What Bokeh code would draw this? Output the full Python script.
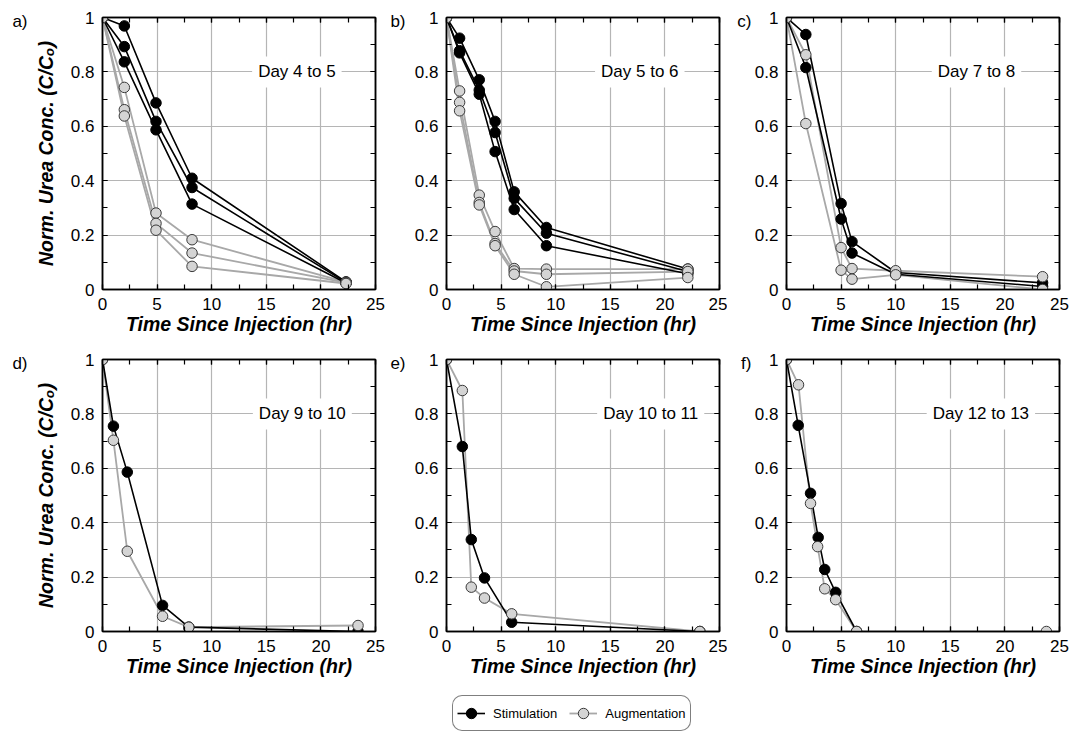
from bokeh.plotting import figure
from bokeh.models import (FixedTicker, LinearAxis, Label, Legend, LegendItem,
                          CustomJSTickFormatter)
from bokeh.layouts import column, row
from bokeh.embed import file_html
from bokeh.resources import INLINE

FONT = "Liberation Sans"

# ---------------- data ----------------
X_TICKS = [0, 5, 10, 15, 20, 25]
X_MINOR = [0, 2.5, 5, 7.5, 10, 12.5, 15, 17.5, 20, 22.5, 25]
Y_TICKS = [0, 0.2, 0.4, 0.6, 0.8, 1.0]
Y_MINOR = [0.1, 0.2, 0.3, 0.4, 0.5, 0.6, 0.7, 0.8, 0.9]
X_GRID = [5, 10, 15, 20]
Y_GRID = [0.2, 0.4, 0.6, 0.8]
X_LABEL = "Time Since Injection (hr)"
Y_LABEL = "Norm. Urea Conc. (C/Cₒ)"

# Panel a) Day 4 to 5
a_t = [0, 2.0, 4.9, 8.2, 22.3]
a_stim = [[1, 0.969, 0.686, 0.409, 0.028],
          [1, 0.893, 0.618, 0.375, 0.026],
          [1, 0.837, 0.587, 0.314, 0.024]]
a_aug = [[1, 0.743, 0.281, 0.183, 0.027],
         [1, 0.661, 0.243, 0.134, 0.025],
         [1, 0.638, 0.218, 0.085, 0.022]]

# Panel b) Day 5 to 6
b_t = [0, 1.2, 3.0, 4.45, 6.2, 9.15, 22.1]
b_stim = [[1, 0.924, 0.771, 0.618, 0.359, 0.228, 0.075],
          [1, 0.878, 0.733, 0.577, 0.335, 0.207, 0.066],
          [1, 0.870, 0.718, 0.507, 0.294, 0.161, 0.058]]
b_aug = [[1, 0.730, 0.347, 0.213, 0.077, 0.075, 0.075],
         [1, 0.688, 0.320, 0.169, 0.068, 0.056, 0.066],
         [1, 0.657, 0.311, 0.161, 0.056, 0.010, 0.044]]

# Panel c) Day 7 to 8
c_t = [0, 1.77, 5.0, 6.0, 10.0, 23.45]
c_stim = [[1, 0.9375, 0.316, 0.176, 0.0625, 0.0245],
          [1, 0.816, 0.259, 0.134, 0.056, 0.011]]
c_aug = [[1, 0.863, 0.154, 0.077, 0.069, 0.047],
         [1, 0.610, 0.071, 0.038, 0.054, 0.0]]

# Panel d) Day 9 to 10
d_t = [0, 1.0, 2.27, 5.5, 7.9, 23.4]
d_stim = [[1, 0.755, 0.586, 0.096, 0.016, 0.0]]
d_aug = [[1, 0.703, 0.295, 0.056, 0.016, 0.022]]

# Panel e) Day 10 to 11
e_t = [0, 1.45, 2.27, 3.48, 5.97, 23.2]
e_stim = [[1, 0.680, 0.338, 0.197, 0.034, 0.0]]
e_aug = [[1, 0.886, 0.163, 0.123, 0.065, 0.0]]

# Panel f) Day 12 to 13
f_stim_t = [0, 1.07, 2.2, 2.9, 3.5, 4.5, 6.42]
f_stim = [[1, 0.758, 0.508, 0.346, 0.228, 0.144, 0.0]]
f_aug_t = [0, 1.1, 2.2, 2.85, 3.5, 4.5, 6.42, 23.8]
f_aug = [[1, 0.907, 0.471, 0.312, 0.157, 0.117, 0.0, 0.0]]

# ---------------- styling ----------------
STIM_LINE = "#000000"
STIM_FILL = "#000000"
AUG_LINE = "#a8a8a8"
AUG_FILL = "#d4d4d4"
AUG_EDGE = "#3a3a3a"
GRID = "#b5b5b5"

FRAME_W = 273
FRAME_H = 272
TICK_FS = "17px"
TITLE_FS = "19.5px"
TAG_Y = 0.987


def style_axis(ax, ticks, minor, labels=True):
    ax.ticker = FixedTicker(ticks=ticks, minor_ticks=minor)
    ax.axis_line_color = "black"
    ax.axis_line_width = 1.5
    ax.major_tick_in = 5
    ax.major_tick_out = 0
    ax.minor_tick_in = 5
    ax.minor_tick_out = 0
    ax.major_tick_line_color = "black"
    ax.minor_tick_line_color = "black"
    ax.major_tick_line_width = 1.2
    ax.minor_tick_line_width = 1.2
    if labels:
        ax.major_label_text_font = FONT
        ax.major_label_text_font_size = TICK_FS
        ax.major_label_text_color = "black"
        ax.major_label_standoff = 8
    else:
        ax.formatter = CustomJSTickFormatter(code="return '';")
        ax.major_label_text_font_size = "0px"
        ax.major_label_standoff = 0


def make_panel(tag, day, day_x, stim_t, stim, aug_t, aug, first_col,
               bl, br, bt, bb, tag_standoff):
    p = figure(frame_width=FRAME_W, frame_height=FRAME_H,
               x_range=(0, 25), y_range=(0, 1),
               output_backend="svg", toolbar_location=None,
               min_border_left=bl, min_border_right=br,
               min_border_top=bt, min_border_bottom=bb,
               background_fill_color="white", border_fill_color="white",
               outline_line_color="black", outline_line_width=1.5)

    xa = p.xaxis[0]
    ya = p.yaxis[0]
    style_axis(xa, X_TICKS, X_MINOR)
    style_axis(ya, Y_TICKS, Y_MINOR)
    ya.formatter = CustomJSTickFormatter(
        code="return (Math.round(tick*10)/10).toString();")
    xa.axis_label = X_LABEL
    xa.axis_label_text_font = FONT
    xa.axis_label_text_font_size = TITLE_FS
    xa.axis_label_text_font_style = "bold italic"
    xa.axis_label_text_color = "black"
    xa.axis_label_standoff = 0
    if first_col:
        ya.axis_label = Y_LABEL
        ya.axis_label_text_font = FONT
        ya.axis_label_text_font_size = TITLE_FS
        ya.axis_label_text_font_style = "bold italic"
        ya.axis_label_text_color = "black"
        ya.axis_label_standoff = 11

    top = LinearAxis()
    style_axis(top, X_TICKS, X_MINOR, labels=False)
    p.add_layout(top, "above")
    right = LinearAxis()
    style_axis(right, Y_TICKS, Y_MINOR, labels=False)
    p.add_layout(right, "right")

    # panel tag "a)" etc. as the single label of an outer, line-less left axis
    tag_axis = LinearAxis(
        ticker=FixedTicker(ticks=[TAG_Y], minor_ticks=[]),
        formatter=CustomJSTickFormatter(code="return '%s';" % tag),
        axis_line_color=None, major_tick_line_color=None,
        minor_tick_line_color=None, major_tick_in=0, major_tick_out=0,
        minor_tick_in=0, minor_tick_out=0,
        major_label_standoff=tag_standoff,
        major_label_text_font=FONT, major_label_text_font_size=TICK_FS,
        major_label_text_color="black")
    p.add_layout(tag_axis, "left")

    p.xgrid.ticker = FixedTicker(ticks=X_GRID)
    p.ygrid.ticker = FixedTicker(ticks=Y_GRID)
    p.grid.grid_line_color = GRID
    p.grid.grid_line_width = 1.2

    for ys in aug:
        p.line(aug_t, ys, line_color=AUG_LINE, line_width=1.8)
    for ys in stim:
        p.line(stim_t, ys, line_color=STIM_LINE, line_width=1.6)
    for ys in stim:
        p.scatter(stim_t, ys, marker="circle", size=10.5,
                  fill_color=STIM_FILL, line_color=STIM_LINE, line_width=1)
    for ys in aug:
        p.scatter(aug_t, ys, marker="circle", size=10.5,
                  fill_color=AUG_FILL, line_color=AUG_EDGE, line_width=1)

    p.add_layout(Label(x=day_x, y=0.8, text=day, text_align="center",
                       text_baseline="middle", text_font=FONT,
                       text_font_size="17px", text_color="black",
                       background_fill_color="white", padding=6))
    return p


pa = make_panel("a)", "Day 4 to 5", 17.8, a_t, a_stim, a_t, a_aug, True, 102, 10, 17, 61, 4)
pb = make_panel("b)", "Day 5 to 6", 17.7, b_t, b_stim, b_t, b_aug, False, 61, 8, 17, 61, 6)
pc = make_panel("c)", "Day 7 to 8", 17.4, c_t, c_stim, c_t, c_aug, False, 59, 10, 17, 61, 0)
pd = make_panel("d)", "Day 9 to 10", 18.3, d_t, d_stim, d_t, d_aug, True, 102, 10, 9, 45, 4)
pe = make_panel("e)", "Day 10 to 11", 18.7, e_t, e_stim, e_t, e_aug, False, 61, 8, 9, 45, 6)
pf = make_panel("f)", "Day 12 to 13", 17.8, f_stim_t, f_stim, f_aug_t, f_aug, False, 59, 10, 9, 45, 0)

# ---------------- legend strip ----------------
LEG_X = [5]
LEG_Y = [5]
lf = figure(width=1069, height=56, min_border=0, x_axis_type=None,
            y_axis_type=None, toolbar_location=None, output_backend="svg",
            outline_line_color=None, x_range=(0, 1), y_range=(0, 1))
lf.grid.visible = False
sl = lf.line(x=LEG_X, y=LEG_Y, line_color=STIM_LINE, line_width=1.6)
ss = lf.scatter(x=LEG_X, y=LEG_Y, marker="circle", size=12, fill_color=STIM_FILL,
                line_color=STIM_LINE, line_width=1)
al = lf.line(x=LEG_X, y=LEG_Y, line_color=AUG_LINE, line_width=1.8)
asc = lf.scatter(x=LEG_X, y=LEG_Y, marker="circle", size=12, fill_color=AUG_FILL,
                 line_color=AUG_EDGE, line_width=1)
legend = Legend(items=[LegendItem(label="Stimulation", renderers=[sl, ss]),
                       LegendItem(label="Augmentation", renderers=[al, asc])],
                orientation="horizontal", location=(452, 4),
                glyph_width=28, glyph_height=26, label_standoff=8,
                spacing=12, padding=4, margin=0,
                label_text_font=FONT, label_text_font_size="13px",
                label_text_color="black",
                border_line_color="black", border_line_width=1,
                background_fill_color="white", background_fill_alpha=1)
if "border_radius" in Legend.properties():
    legend.border_radius = 10
lf.add_layout(legend)

layout = column(row(pa, pb, pc), row(pd, pe, pf), lf)
open("out.html", "w").write(file_html(layout, INLINE))
